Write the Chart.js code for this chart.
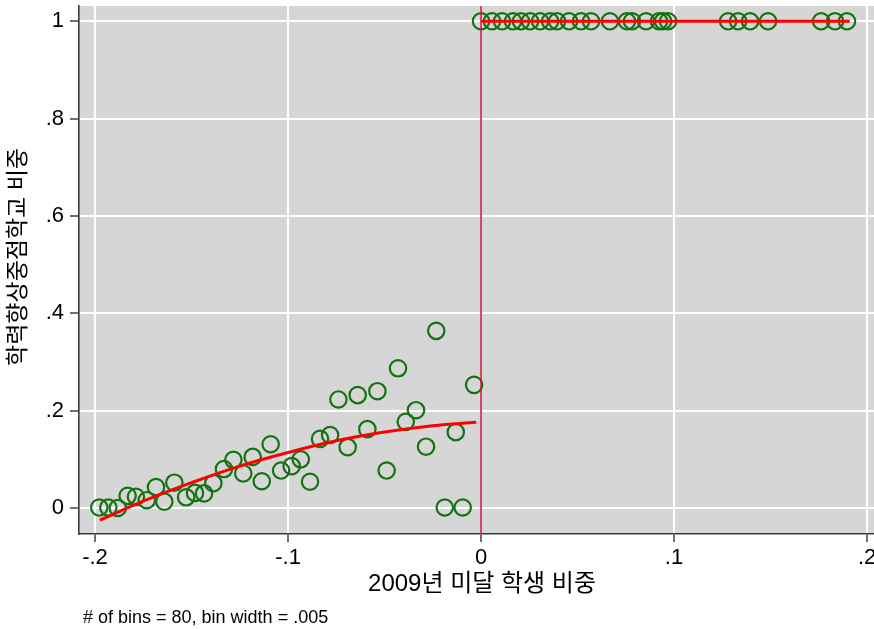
<!DOCTYPE html>
<html>
<head>
<meta charset="utf-8">
<script src="https://cdn.jsdelivr.net/npm/chart.js@4/dist/chart.umd.min.js"></script>
<style>
  html, body { margin: 0; padding: 0; background: #ffffff; }
  #wrap { position: relative; width: 874px; height: 629px; }
</style>
</head>
<body>
<div id="wrap"><canvas id="rd" width="874" height="629"></canvas></div>
<script>
// Binned means left of the cutoff (bin width .005)
const leftBinX = [-0.1978, -0.1931, -0.1882, -0.1831, -0.1788, -0.1732, -0.1684, -0.1641,
  -0.1589, -0.1528, -0.1482, -0.1435, -0.1387, -0.1332, -0.1283, -0.1232, -0.1183, -0.1136,
  -0.1090, -0.1036, -0.0981, -0.0934, -0.0886, -0.0834, -0.0782, -0.0739, -0.0691, -0.0639,
  -0.0589, -0.0537, -0.0489, -0.0430, -0.0390, -0.0337, -0.0285, -0.0232, -0.0188, -0.0131,
  -0.0095, -0.0036];
const leftBinY = [0.001, 0.001, 0.000, 0.025, 0.023, 0.016, 0.043, 0.013,
  0.052, 0.022, 0.031, 0.030, 0.051, 0.080, 0.099, 0.071, 0.105, 0.055,
  0.131, 0.077, 0.086, 0.100, 0.054, 0.142, 0.150, 0.223, 0.125, 0.232,
  0.162, 0.240, 0.077, 0.287, 0.177, 0.201, 0.126, 0.364, 0.001, 0.156,
  0.001, 0.253];

// Binned means right of the cutoff
const rightBinX = [0.0000, 0.0057, 0.0109, 0.0166, 0.0207, 0.0254, 0.0306, 0.0358, 0.0394,
  0.0456, 0.0518, 0.0570, 0.0668, 0.0756, 0.0782, 0.0855, 0.0922, 0.0943, 0.0969,
  0.1280, 0.1332, 0.1394, 0.1487, 0.1762, 0.1834, 0.1896];
const rightBinY = [1, 1, 1, 1, 1, 1, 1, 1, 1,
  1, 1, 1, 1, 1, 1, 1, 1, 1, 1,
  1, 1, 1, 1, 1, 1, 1];

// Fitted curves on each side
const fitLeftX = [-0.1975, -0.175, -0.15, -0.125, -0.10, -0.075, -0.05, -0.025, -0.0025];
const fitLeftY = [-0.025, 0.014, 0.052, 0.086, 0.114, 0.138, 0.156, 0.169, 0.176];
const fitRightX = [0.0, 0.191];
const fitRightY = [1, 1];

const cutoff = 0;
const xTicks = [-0.2, -0.1, 0, 0.1, 0.2];
const yTicks = [0, 0.2, 0.4, 0.6, 0.8, 1];

const xAxisTitle = '2009년 미달 학생 비중';
const yAxisTitle = '학력향상중점학교 비중';
const noteText = '# of bins = 80, bin width = .005';

const FONT = "'Liberation Sans', 'Noto Sans CJK KR', sans-serif";
const fmt = v => {
  if (v === 0) return '0';
  const s = String(+v.toFixed(3));
  return s.replace(/^0\./, '.').replace(/^-0\./, '-.');
};
const pts = (xs, ys) => xs.map((x, i) => ({ x: x, y: ys[i] }));

// gray plot region behind everything
const plotBg = {
  id: 'plotBg',
  beforeDraw(chart) {
    const { ctx, chartArea: a } = chart;
    ctx.save();
    ctx.fillStyle = '#d6d6d6';
    ctx.fillRect(a.left, a.top, a.right - a.left, a.bottom - a.top);
    ctx.restore();
  }
};

// cutoff line, axis titles and footnote
const overlay = {
  id: 'overlay',
  afterDatasetsDraw(chart) {
    const { ctx, chartArea: a, scales } = chart;
    const px = scales.x.getPixelForValue(cutoff);
    ctx.save();
    ctx.strokeStyle = '#d2143f';
    ctx.lineWidth = 1.6;
    ctx.beginPath();
    ctx.moveTo(px, a.top);
    ctx.lineTo(px, a.bottom);
    ctx.stroke();
    ctx.restore();
  },
  afterDraw(chart) {
    const { ctx, scales } = chart;
    ctx.save();
    ctx.fillStyle = '#000';
    ctx.textAlign = 'center';
    ctx.textBaseline = 'middle';
    // x-axis title, centred under the cutoff tick
    ctx.font = '24px ' + FONT;
    ctx.fillText(xAxisTitle, scales.x.getPixelForValue(0) + 1, 584);
    // y-axis title, rotated
    ctx.save();
    ctx.translate(19, 257);
    ctx.rotate(-Math.PI / 2);
    ctx.font = '23px ' + FONT;
    ctx.fillText(yAxisTitle, 0, 0);
    ctx.restore();
    // footnote
    ctx.font = '18px ' + FONT;
    ctx.textAlign = 'left';
    ctx.textBaseline = 'alphabetic';
    ctx.fillText(noteText, 83, 623);
    ctx.restore();
  }
};

new Chart(document.getElementById('rd'), {
  type: 'scatter',
  data: {
    datasets: [
      {
        data: pts(fitLeftX, fitLeftY), showLine: true, order: 0,
        borderColor: '#ff0000', borderWidth: 3, pointRadius: 0, tension: 0.4, fill: false
      },
      {
        data: pts(fitRightX, fitRightY), showLine: true, order: 0,
        borderColor: '#ff0000', borderWidth: 3, pointRadius: 0, fill: false
      },
      {
        data: pts(leftBinX, leftBinY).concat(pts(rightBinX, rightBinY)), order: 1,
        pointStyle: 'circle', pointRadius: 8.2, borderWidth: 2.2,
        borderColor: '#137313', backgroundColor: 'rgba(0,0,0,0)'
      }
    ]
  },
  options: {
    responsive: false,
    animation: false,
    devicePixelRatio: 1,
    layout: { autoPadding: false, padding: { left: 0, right: 0, top: 6, bottom: 0 } },
    plugins: { legend: { display: false }, tooltip: { enabled: false } },
    scales: {
      x: {
        type: 'linear', position: 'bottom',
        min: -0.2083, max: 0.2036,
        afterBuildTicks: s => { s.ticks = xTicks.map(v => ({ value: v })); },
        afterFit: s => { s.height = 95; s.paddingLeft = 0; s.paddingRight = 0; },
        ticks: { callback: v => fmt(v), color: '#000', font: { family: FONT, size: 22 }, padding: 3, maxRotation: 0, autoSkip: false },
        grid: { color: '#ffffff', lineWidth: 2, tickLength: 8, tickColor: '#333333', tickWidth: 1.4 },
        border: { display: true, color: '#3a3a3a', width: 1.6 },
        title: { display: false }
      },
      y: {
        type: 'linear', position: 'left',
        min: -0.0534, max: 1.0314,
        afterBuildTicks: s => { s.ticks = yTicks.map(v => ({ value: v })); },
        afterFit: s => { s.width = 79; s.paddingTop = 0; s.paddingBottom = 0; },
        ticks: { callback: v => fmt(v), color: '#000', font: { family: FONT, size: 22 }, padding: 6, autoSkip: false },
        grid: { color: '#ffffff', lineWidth: 2, tickLength: 9, tickColor: '#333333', tickWidth: 1.4 },
        border: { display: true, color: '#3a3a3a', width: 1.6 },
        title: { display: false }
      }
    }
  },
  plugins: [plotBg, overlay]
});
</script>
</body>
</html>
